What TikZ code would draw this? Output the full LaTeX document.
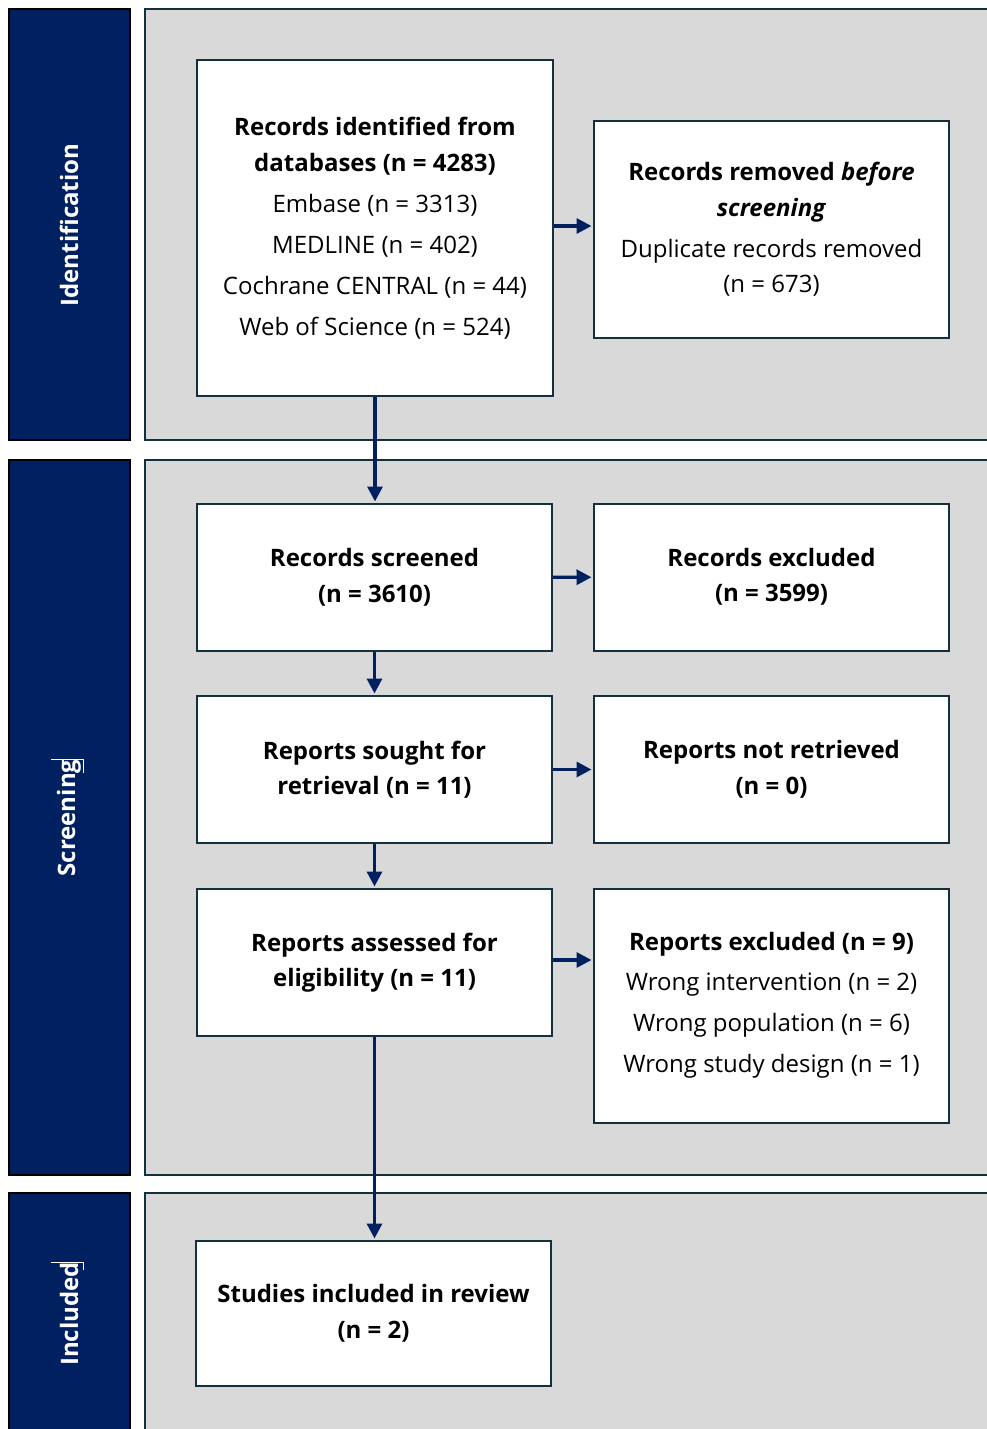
\documentclass[tikz,border=0pt]{standalone}
\usepackage{fontspec}
\setmainfont{Open Sans}
\usetikzlibrary{arrows.meta}
\definecolor{navy}{HTML}{002060}
\definecolor{panelgray}{HTML}{D9D9D9}
\definecolor{edge}{HTML}{13303F}

\begin{document}
\begin{tikzpicture}[x=1pt,y=-1pt,
  band/.style={draw=black, line width=2.2pt, fill=navy},
  panel/.style={draw=edge, line width=2pt, fill=panelgray},
  phase/.style={rotate=90, text=white, font=\fontsize{24}{28}\selectfont\bfseries, inner sep=0pt},
  stepbox/.style={draw=edge, line width=2pt, fill=white, rectangle, inner sep=0pt,
    minimum width=355pt, align=center, font=\fontsize{24}{35.5}\selectfont},
  flow/.style={draw=navy, line width=3.3pt, -{Triangle[length=15pt,width=15pt]}, shorten >=1.5pt},
  ]
\clip (0,0) rectangle (987,1429);
\fill[white] (0,0) rectangle (987,1429);

% phase bands and panels
\draw[band]  (9,9)    rectangle (130,440);
\draw[panel] (145,9)  rectangle (1000,440);
\draw[band]  (9,460)  rectangle (130,1175);
\draw[panel] (145,460) rectangle (1000,1175);
\draw[band]  (9,1193) rectangle (130,1445);
\draw[panel] (145,1193) rectangle (1000,1445);

\node[phase] (lblid)  at (69,225)   {Identification};
\node[phase] (lblscr) at (69,818)   {Screening};
\node[phase] (lblinc) at (69,1314)  {Included};
\draw[white, line width=1pt] (51,759) -- (83,759) -- (83,773);
\draw[white, line width=1pt] (51,1262) -- (83,1262) -- (83,1270);

% flow boxes
\node[stepbox, minimum width=356pt, minimum height=336pt] (ident) at (375,228)
  {\textbf{Records identified from}\\ \textbf{databases (n = 4283)}\\[6pt]
   Embase (n = 3313)\\[5pt] MEDLINE (n = 402)\\[5.5pt]
   Cochrane CENTRAL (n = 44)\\[5.5pt] Web of Science (n = 524)};
\node[stepbox, minimum height=217pt] (removed) at (771.5,229.5)
  {\textbf{Records removed \textit{before}}\\ \textbf{\textit{screening}}\\[5.5pt]
   Duplicate records removed\\ (n = 673)};
\node[stepbox, minimum height=147pt] (screened) at (374.5,577.5)
  {\textbf{Records screened}\\ \textbf{(n = 3610)}};
\node[stepbox, minimum height=147pt] (recexcl) at (771.5,577)
  {\textbf{Records excluded}\\ \textbf{(n = 3599)}};
\node[stepbox, minimum height=147pt] (sought) at (374.5,769.5)
  {\textbf{Reports sought for}\\ \textbf{retrieval (n = 11)}};
\node[stepbox, minimum height=147pt] (notret) at (771.5,769.5)
  {\textbf{Reports not retrieved}\\ \textbf{(n = 0)}};
\node[stepbox, minimum height=147pt] (assessed) at (374.5,962.5)
  {\textbf{Reports assessed for}\\ \textbf{eligibility (n = 11)}};
\node[stepbox, minimum height=234pt] (repexcl) at (771.5,1005.5)
  {\textbf{Reports excluded (n = 9)}\\[4.5pt]
   Wrong intervention (n = 2)\\[5.5pt] Wrong population (n = 6)\\[5.5pt]
   Wrong study design (n = 1)};
\node[stepbox, minimum height=145pt] (included) at (373.5,1313.5)
  {\textbf{Studies included in review}\\ \textbf{(n = 2)}};

% connectors
\draw[flow] (ident.east |- 0,226) -- (removed.west |- 0,226);
\draw[flow] (ident.south) -- (ident.south |- screened.north);
\draw[flow] (screened) -- (recexcl);
\draw[flow] (screened) -- (sought);
\draw[flow] (sought) -- (notret);
\draw[flow] (sought) -- (assessed);
\draw[flow] (assessed.east |- 0,960) -- (repexcl.west |- 0,960);
\draw[flow] (assessed.south) -- (assessed.south |- included.north);
\end{tikzpicture}
\end{document}
